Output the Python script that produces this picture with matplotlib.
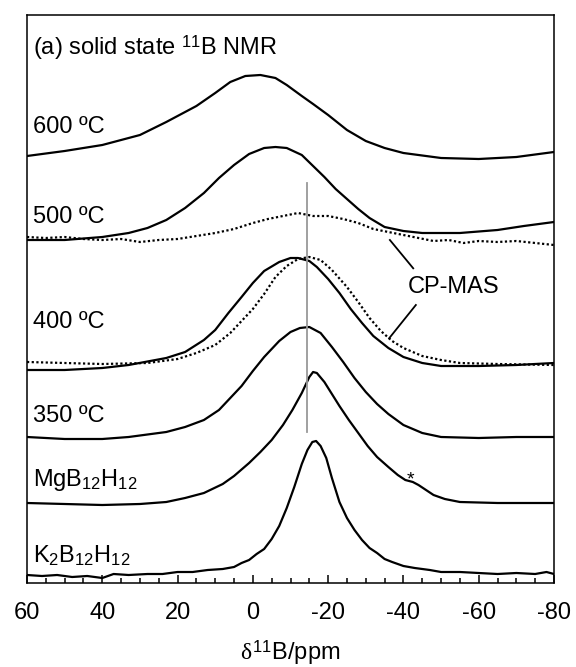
import numpy as np
import matplotlib
matplotlib.use('Agg')
import matplotlib.pyplot as plt

plt.rcParams['font.family'] = ['Liberation Sans', 'DejaVu Sans']
plt.rcParams['mathtext.fontset'] = 'custom'
plt.rcParams['mathtext.rm'] = 'Liberation Sans'
plt.rcParams['mathtext.it'] = 'Liberation Serif'
plt.rcParams['axes.unicode_minus'] = False

# spectra, heights in plot units (stacked)
ppm_600 = [60, 50, 40, 30, 23, 15, 10, 6, 2, -2, -6, -9, -13, -16, -20, -25, -30, -35, -40, -50, -60, -70, -80]
h_600 = [427, 432, 438, 448, 461, 477, 490, 501, 507, 508, 505, 498, 487, 479, 468, 453, 442, 435, 430, 425, 424, 426, 431]

ppm_500 = [60, 50, 40, 33, 28, 23, 18, 13, 9, 5, 1, -3, -6, -9, -13, -16, -19, -22, -25, -28, -31, -35, -40, -45, -55, -65, -72, -80]
h_500 = [343, 343, 346, 350, 355, 363, 375, 390, 405, 418, 429, 435, 436, 435, 428, 417, 406, 394, 384, 374, 365, 356, 352, 350, 350, 353, 357, 361]

ppm_500cp = [60, 55, 50, 45, 40, 35, 30, 25, 20, 15, 10, 5, 0, -4, -8, -12, -16, -20, -24, -28, -32, -36, -40, -44, -48, -52, -56, -60, -65, -70, -75, -80]
h_500cp = [346, 345, 346, 344, 343, 344, 341, 343, 344, 347, 350, 354, 360, 364, 367, 370, 367, 367, 364, 360, 354, 351, 348, 345, 342, 343, 340, 342, 341, 342, 340, 338]

ppm_400 = [60, 50, 40, 33, 23, 18, 13, 10, 6.5, 3, 0, -3, -7, -10, -12, -15, -17, -20, -23, -26, -29, -32, -36, -40, -45, -50, -60, -70, -80]
h_400 = [213, 213, 215, 218, 225, 231, 243, 253, 270, 286, 300, 312, 321, 325, 325, 322, 316, 304, 290, 274, 260, 247, 235, 226, 220, 217, 217, 218, 220]

ppm_400cp = [60, 50, 40, 28, 20, 15, 10, 6, 3, 0, -3, -6, -9, -12, -15, -18, -21, -25, -28, -31, -34, -37, -40, -45, -50, -55, -65, -80]
h_400cp = [221, 220, 219, 220, 224, 230, 238, 250, 262, 274, 289, 306, 317, 324, 326, 323, 313, 296, 281, 265, 252, 242, 235, 227, 223, 220, 219, 218]

ppm_350 = [60, 50, 40, 33, 23, 18, 13, 9, 6, 3, 0, -3, -7, -10, -12.5, -15, -18, -21, -24, -27, -30, -33, -36, -40, -45, -50, -60, -70, -80]
h_350 = [146, 144, 144, 146, 151, 156, 163, 173, 185, 197, 212, 226, 242, 251, 255, 256, 250, 236, 221, 205, 191, 179, 169, 158, 150, 146, 145, 146, 146]

ppm_mg = [60, 50, 40, 30, 23, 18, 13, 8, 5, 1, -2, -5, -8, -10.5, -13, -15, -16, -17, -19, -21, -23, -25.5, -28, -30.5, -33, -36, -38.5, -40.5, -42.5, -44, -46, -48, -51, -55, -65, -80]
h_mg = [80, 79, 78, 79, 81, 85, 90, 99, 107, 120, 131, 143, 158, 173, 190, 206, 211, 210, 201, 189, 177, 163, 150, 137, 126, 116, 108, 103, 101, 98, 93, 88, 84, 81, 80, 80]

ppm_k = [60, 56, 52, 48, 44, 40, 37, 33, 28, 24, 20, 16, 12, 8, 5, 3, 1, -1, -3, -5, -7, -9, -11, -13, -14.5, -15.8, -16.8, -18, -19.5, -21, -23, -25, -27, -29, -31, -33, -35, -37, -40, -43, -47, -50, -55, -60, -65, -70, -75, -78, -80]
h_k = [8, 7, 8, 6, 7, 5, 9, 8, 9, 9, 11, 11, 13, 14, 16, 20, 23, 29, 34, 44, 57, 75, 96, 119, 133, 141, 142, 137, 125, 105, 81, 65, 53, 43, 35, 30, 24, 21, 17, 15, 13, 11, 11, 10, 9, 10, 9, 11, 9]

labels = ['600 ºC', '500 ºC', '400 ºC', '350 ºC', r'MgB$_{12}$H$_{12}$', r'K$_2$B$_{12}$H$_{12}$']
label_y = [450, 360, 255, 161, 97, 20]

fs = 17
fig = plt.figure(figsize=(5.76, 6.67), dpi=100)
ax = fig.add_axes([27/576, 84/667, 527/576, 568/667])

lw = 1.6
for xs, ys in [(ppm_600, h_600), (ppm_500, h_500), (ppm_400, h_400),
               (ppm_350, h_350), (ppm_mg, h_mg), (ppm_k, h_k)]:
    ax.plot(xs, ys, c='black', lw=lw)
ax.plot(ppm_500cp, h_500cp, c='black', lw=lw, ls=(0, (1, 1.1)))
ax.plot(ppm_400cp, h_400cp, c='black', lw=lw, ls=(0, (1, 1.1)))

# reference line
ax.plot([-14.4, -14.4], [151, 400], c='#999999', lw=1.3)

# CP-MAS label with leaders
ax.text(-53.4, 296, 'CP-MAS', fontsize=fs, ha='center', va='center')
ax.plot([-36.4, -42.6], [343, 314.7], c='black', lw=1.3)
ax.plot([-43.3, -36.2], [278, 244.7], c='black', lw=1.3)
ax.text(-42.0, 99, '*', fontsize=14, ha='center', va='baseline')

ax.text(58.4, 528.5, r'(a) solid state $^{11}$B NMR', fontsize=fs, va='baseline')
for lab, yy in zip(labels, label_y):
    ax.text(58.4, yy, lab, fontsize=fs, va='baseline')

ax.set_xlim(60, -80)
ax.set_ylim(0, 568)
ax.set_yticks([])
ax.set_xticks(np.arange(60, -81, -20))
ax.set_xticks(np.arange(60, -81, -5), minor=True)
ax.tick_params(axis='x', which='major', direction='in', length=6, width=1.1, labelsize=fs, pad=14)
ax.tick_params(axis='x', which='minor', direction='in', length=3.5, width=1.1)
for s in ax.spines.values():
    s.set_linewidth(1.1)

ax.set_xlabel(r'$\delta^{11}$B/ppm', fontsize=fs)
ax.xaxis.set_label_coords(0.5, -(660 - 583) / 568)
ax.xaxis.label.set_va('baseline')

fig.savefig('out.png', dpi=100)
